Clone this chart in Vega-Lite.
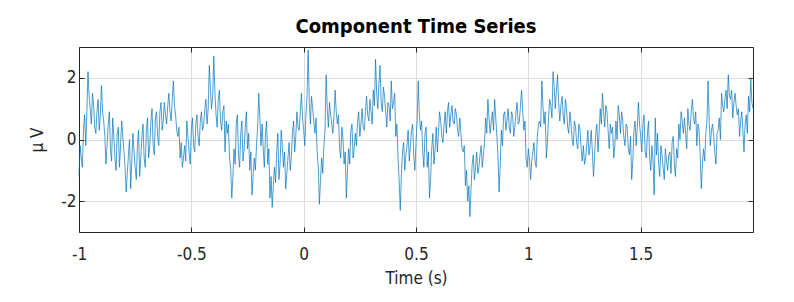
{
"$schema": "https://vega.github.io/schema/vega-lite/v6.json",
"width": 674, "height": 185,
"autosize": {"type": "none"},
"padding": {"left": 79, "top": 47, "right": 41, "bottom": 70},
"background": "white",
"title": {"text": "Component Time Series", "font": "DejaVu Sans Condensed", "fontSize": 20, "fontWeight": "bold", "color": "#000000", "offset": 10, "anchor": "middle"},
"config": {"view": {"stroke": null}, "axis": {"labelFont": "DejaVu Sans Condensed", "titleFont": "DejaVu Sans Condensed", "labelFontSize": 17, "titleFontSize": 17, "titleFontWeight": "normal", "labelColor": "#262626", "titleColor": "#262626", "domainColor": "#262626", "domainWidth": 1, "tickColor": "#262626", "tickWidth": 1, "gridColor": "#dcdcdc", "gridWidth": 1, "labelFlush": false}},
"data": {"values": [
{"t":-1.00,"v":-1.2},{"t":-0.99,"v":-0.6},{"t":-0.98,"v":0.3},{"t":-0.97,"v":-0.2},{"t":-0.96,"v":2.2},{"t":-0.95,"v":1.0},{"t":-0.94,"v":1.5},{"t":-0.93,"v":0.4},{"t":-0.92,"v":0.9},{"t":-0.91,"v":0.3},
{"t":-0.90,"v":1.75},{"t":-0.89,"v":0.6},{"t":-0.88,"v":-0.8},{"t":-0.87,"v":0.5},{"t":-0.86,"v":-0.3},{"t":-0.85,"v":0.7},{"t":-0.84,"v":-0.6},{"t":-0.83,"v":0.2},{"t":-0.82,"v":-0.9},{"t":-0.81,"v":0.6},
{"t":-0.80,"v":-0.4},{"t":-0.79,"v":-1.7},{"t":-0.78,"v":-0.5},{"t":-0.77,"v":-1.6},{"t":-0.76,"v":0.2},{"t":-0.75,"v":-0.9},{"t":-0.74,"v":-0.2},{"t":-0.73,"v":-1.2},{"t":-0.72,"v":0.1},{"t":-0.71,"v":-0.6},
{"t":-0.70,"v":0.3},{"t":-0.69,"v":-0.6},{"t":-0.68,"v":0.6},{"t":-0.67,"v":-0.2},{"t":-0.66,"v":0.7},{"t":-0.65,"v":0.1},{"t":-0.64,"v":0.9},{"t":-0.63,"v":0.3},{"t":-0.62,"v":1.2},{"t":-0.61,"v":0.5},
{"t":-0.60,"v":1.5},{"t":-0.59,"v":0.6},{"t":-0.58,"v":1.9},{"t":-0.57,"v":0.8},{"t":-0.56,"v":0.1},{"t":-0.55,"v":-0.6},{"t":-0.54,"v":-0.9},{"t":-0.53,"v":-0.2},{"t":-0.52,"v":0.6},{"t":-0.51,"v":-0.4},
{"t":-0.50,"v":0.3},{"t":-0.49,"v":-0.2},{"t":-0.48,"v":0.5},{"t":-0.47,"v":0.1},{"t":-0.46,"v":0.6},{"t":-0.45,"v":0.3},{"t":-0.44,"v":1.0},{"t":-0.43,"v":0.5},{"t":-0.42,"v":2.4},{"t":-0.41,"v":1.0},
{"t":-0.40,"v":2.7},{"t":-0.39,"v":0.8},{"t":-0.38,"v":1.3},{"t":-0.37,"v":0.6},{"t":-0.36,"v":0.9},{"t":-0.35,"v":-0.4},{"t":-0.34,"v":0.2},{"t":-0.33,"v":-0.6},{"t":-0.32,"v":-1.9},{"t":-0.31,"v":-0.3},
{"t":-0.30,"v":0.5},{"t":-0.29,"v":-0.5},{"t":-0.28,"v":0.2},{"t":-0.27,"v":-0.7},{"t":-0.26,"v":0.4},{"t":-0.25,"v":-0.3},{"t":-0.24,"v":-1.0},{"t":-0.23,"v":-1.8},{"t":-0.22,"v":-0.6},{"t":-0.21,"v":-0.2},
{"t":-0.20,"v":1.5},{"t":-0.19,"v":-0.2},{"t":-0.18,"v":-0.3},{"t":-0.17,"v":0.2},{"t":-0.16,"v":-0.8},{"t":-0.15,"v":-1.9},{"t":-0.14,"v":-2.2},{"t":-0.13,"v":-0.9},{"t":-0.12,"v":-0.4},{"t":-0.11,"v":-1.3},
{"t":-0.10,"v":0.3},{"t":-0.09,"v":-0.9},{"t":-0.08,"v":-1.6},{"t":-0.07,"v":-0.6},{"t":-0.06,"v":-1.0},{"t":-0.05,"v":0.2},{"t":-0.04,"v":-0.4},{"t":-0.03,"v":0.9},{"t":-0.02,"v":0.3},{"t":-0.01,"v":1.5},
{"t":0.00,"v":0.3},{"t":0.01,"v":0.8},{"t":0.02,"v":2.9},{"t":0.03,"v":0.5},{"t":0.04,"v":1.0},{"t":0.05,"v":0.2},{"t":0.06,"v":-0.4},{"t":0.07,"v":-2.1},{"t":0.08,"v":-0.6},{"t":0.09,"v":-0.2},
{"t":0.10,"v":2.1},{"t":0.11,"v":0.4},{"t":0.12,"v":0.8},{"t":0.13,"v":0.2},{"t":0.14,"v":1.6},{"t":0.15,"v":0.5},{"t":0.16,"v":-0.3},{"t":0.17,"v":0.4},{"t":0.18,"v":-0.8},{"t":0.19,"v":-1.9},
{"t":0.20,"v":-0.3},{"t":0.21,"v":0.3},{"t":0.22,"v":-0.6},{"t":0.23,"v":0.2},{"t":0.24,"v":0.6},{"t":0.25,"v":0.1},{"t":0.26,"v":1.0},{"t":0.27,"v":0.3},{"t":0.28,"v":1.4},{"t":0.29,"v":0.6},
{"t":0.30,"v":0.9},{"t":0.31,"v":1.6},{"t":0.32,"v":2.6},{"t":0.33,"v":1.0},{"t":0.34,"v":2.4},{"t":0.35,"v":0.9},{"t":0.36,"v":1.4},{"t":0.37,"v":0.4},{"t":0.38,"v":1.1},{"t":0.39,"v":1.9},
{"t":0.40,"v":1.2},{"t":0.41,"v":0.1},{"t":0.42,"v":-0.6},{"t":0.43,"v":-2.3},{"t":0.44,"v":-0.4},{"t":0.45,"v":-1.0},{"t":0.46,"v":-0.2},{"t":0.47,"v":-0.7},{"t":0.48,"v":0.3},{"t":0.49,"v":-0.5},
{"t":0.50,"v":-0.1},{"t":0.51,"v":1.9},{"t":0.52,"v":0.3},{"t":0.53,"v":-0.4},{"t":0.54,"v":0.2},{"t":0.55,"v":-0.9},{"t":0.56,"v":-1.9},{"t":0.57,"v":-0.3},{"t":0.58,"v":-0.8},{"t":0.59,"v":0.4},
{"t":0.60,"v":0.2},{"t":0.61,"v":0.6},{"t":0.62,"v":-0.1},{"t":0.63,"v":0.9},{"t":0.64,"v":0.9},{"t":0.65,"v":0.4},{"t":0.66,"v":1.1},{"t":0.67,"v":0.5},{"t":0.68,"v":0.8},{"t":0.69,"v":0.1},
{"t":0.70,"v":0.2},{"t":0.71,"v":-0.4},{"t":0.72,"v":-1.5},{"t":0.73,"v":-2.0},{"t":0.74,"v":-2.5},{"t":0.75,"v":-0.8},{"t":0.76,"v":-1.3},{"t":0.77,"v":-0.4},{"t":0.78,"v":-0.9},{"t":0.79,"v":-0.2},
{"t":0.80,"v":-0.5},{"t":0.81,"v":0.7},{"t":0.82,"v":1.3},{"t":0.83,"v":0.2},{"t":0.84,"v":0.9},{"t":0.85,"v":1.3},{"t":0.86,"v":0.1},{"t":0.87,"v":-1.7},{"t":0.88,"v":0.3},{"t":0.89,"v":0.8},
{"t":0.90,"v":0.3},{"t":0.91,"v":1.0},{"t":0.92,"v":0.2},{"t":0.93,"v":0.8},{"t":0.94,"v":0.4},{"t":0.95,"v":1.2},{"t":0.96,"v":0.6},{"t":0.97,"v":1.6},{"t":0.98,"v":0.3},{"t":0.99,"v":-0.6},
{"t":1.00,"v":-0.3},{"t":1.01,"v":-1.3},{"t":1.02,"v":-0.4},{"t":1.03,"v":-0.7},{"t":1.04,"v":0.1},{"t":1.05,"v":0.6},{"t":1.06,"v":1.9},{"t":1.07,"v":0.5},{"t":1.08,"v":-0.6},{"t":1.09,"v":0.7},
{"t":1.10,"v":1.1},{"t":1.11,"v":2.2},{"t":1.12,"v":1.0},{"t":1.13,"v":2.1},{"t":1.14,"v":0.6},{"t":1.15,"v":1.4},{"t":1.16,"v":0.5},{"t":1.17,"v":1.0},{"t":1.18,"v":0.2},{"t":1.19,"v":0.5},
{"t":1.20,"v":-0.2},{"t":1.21,"v":0.4},{"t":1.22,"v":-0.3},{"t":1.23,"v":0.3},{"t":1.24,"v":-0.7},{"t":1.25,"v":-0.8},{"t":1.26,"v":-0.2},{"t":1.27,"v":-0.5},{"t":1.28,"v":0.3},{"t":1.29,"v":-1.2},
{"t":1.30,"v":0.2},{"t":1.31,"v":-0.4},{"t":1.32,"v":1.0},{"t":1.33,"v":1.5},{"t":1.34,"v":0.4},{"t":1.35,"v":0.9},{"t":1.36,"v":-0.3},{"t":1.37,"v":0.2},{"t":1.38,"v":-0.6},{"t":1.39,"v":0.6},
{"t":1.40,"v":1.1},{"t":1.41,"v":0.2},{"t":1.42,"v":0.6},{"t":1.43,"v":-0.2},{"t":1.44,"v":0.4},{"t":1.45,"v":-0.5},{"t":1.46,"v":-1.3},{"t":1.47,"v":0.3},{"t":1.48,"v":-0.2},{"t":1.49,"v":1.2},
{"t":1.50,"v":0.1},{"t":1.51,"v":0.5},{"t":1.52,"v":-0.4},{"t":1.53,"v":0.2},{"t":1.54,"v":-0.6},{"t":1.55,"v":-0.2},{"t":1.56,"v":-1.8},{"t":1.57,"v":-0.5},{"t":1.58,"v":-0.8},{"t":1.59,"v":-0.2},
{"t":1.60,"v":-0.9},{"t":1.61,"v":-0.3},{"t":1.62,"v":-1.0},{"t":1.63,"v":-0.4},{"t":1.64,"v":-0.1},{"t":1.65,"v":-0.8},{"t":1.66,"v":-0.3},{"t":1.67,"v":0.5},{"t":1.68,"v":0.9},{"t":1.69,"v":0.2},
{"t":1.70,"v":0.2},{"t":1.71,"v":1.0},{"t":1.72,"v":0.3},{"t":1.73,"v":1.3},{"t":1.74,"v":0.5},{"t":1.75,"v":-0.2},{"t":1.76,"v":0.3},{"t":1.77,"v":-1.6},{"t":1.78,"v":-0.3},{"t":1.79,"v":0.2},
{"t":1.80,"v":1.9},{"t":1.81,"v":-0.2},{"t":1.82,"v":0.5},{"t":1.83,"v":-0.4},{"t":1.84,"v":0.2},{"t":1.85,"v":0.7},{"t":1.86,"v":1.5},{"t":1.87,"v":0.9},{"t":1.88,"v":1.6},{"t":1.89,"v":2.1},
{"t":1.90,"v":1.3},{"t":1.91,"v":0.7},{"t":1.92,"v":1.5},{"t":1.93,"v":0.8},{"t":1.94,"v":0.1},{"t":1.95,"v":0.9},{"t":1.96,"v":-0.4},{"t":1.97,"v":0.8},{"t":1.98,"v":1.4},{"t":1.99,"v":2.0},{"t":2.00,"v":1.0},
{"t":-0.995,"v":-0.2},{"t":-0.985,"v":-0.9},{"t":-0.975,"v":0.8},{"t":-0.965,"v":0.9},{"t":-0.955,"v":1.4},{"t":-0.945,"v":0.5},{"t":-0.935,"v":1.1},{"t":-0.925,"v":0.2},{"t":-0.915,"v":1.3},{"t":-0.905,"v":0.8},
{"t":-0.895,"v":0.9},{"t":-0.885,"v":0.1},{"t":-0.875,"v":-0.2},{"t":-0.865,"v":0.9},{"t":-0.855,"v":-0.7},{"t":-0.845,"v":0.1},{"t":-0.835,"v":-1.0},{"t":-0.825,"v":0.4},{"t":-0.815,"v":-0.2},{"t":-0.805,"v":0.1},
{"t":-0.795,"v":-0.9},{"t":-0.785,"v":-1.1},{"t":-0.775,"v":0.0},{"t":-0.765,"v":-0.7},{"t":-0.755,"v":-0.4},{"t":-0.745,"v":-1.3},{"t":-0.735,"v":0.3},{"t":-0.725,"v":-0.6},{"t":-0.715,"v":0.5},{"t":-0.705,"v":-0.9},
{"t":-0.695,"v":0.7},{"t":-0.685,"v":-0.2},{"t":-0.675,"v":1.0},{"t":-0.665,"v":-0.5},{"t":-0.655,"v":0.9},{"t":-0.645,"v":-0.2},{"t":-0.635,"v":1.2},{"t":-0.625,"v":0.6},{"t":-0.615,"v":0.8},{"t":-0.605,"v":1.1},
{"t":-0.595,"v":0.9},{"t":-0.585,"v":1.3},{"t":-0.575,"v":1.1},{"t":-0.565,"v":0.3},{"t":-0.555,"v":0.4},{"t":-0.545,"v":-0.1},{"t":-0.535,"v":-0.6},{"t":-0.525,"v":-0.7},{"t":-0.515,"v":0.1},{"t":-0.505,"v":-0.8},
{"t":-0.495,"v":0.7},{"t":-0.485,"v":-0.4},{"t":-0.475,"v":0.8},{"t":-0.465,"v":-0.2},{"t":-0.455,"v":0.9},{"t":-0.445,"v":0.5},{"t":-0.435,"v":1.3},{"t":-0.425,"v":1.0},{"t":-0.415,"v":1.6},{"t":-0.405,"v":1.4},
{"t":-0.395,"v":1.5},{"t":-0.385,"v":0.4},{"t":-0.375,"v":1.6},{"t":-0.365,"v":0.3},{"t":-0.355,"v":1.1},{"t":-0.345,"v":0.6},{"t":-0.335,"v":0.5},{"t":-0.325,"v":-0.9},{"t":-0.315,"v":-1.2},{"t":-0.305,"v":-0.8},
{"t":-0.295,"v":0.8},{"t":-0.285,"v":-0.9},{"t":-0.275,"v":0.6},{"t":-0.265,"v":-0.3},{"t":-0.255,"v":0.9},{"t":-0.245,"v":0.2},{"t":-0.235,"v":-0.4},{"t":-0.225,"v":-1.2},{"t":-0.215,"v":-1.0},{"t":-0.205,"v":0.4},
{"t":-0.195,"v":0.7},{"t":-0.185,"v":0.5},{"t":-0.175,"v":-0.9},{"t":-0.165,"v":0.6},{"t":-0.155,"v":-0.3},{"t":-0.145,"v":-1.2},{"t":-0.135,"v":-1.5},{"t":-0.125,"v":-1.4},{"t":-0.115,"v":0.2},{"t":-0.105,"v":-0.8},
{"t":-0.095,"v":-0.2},{"t":-0.085,"v":-0.4},{"t":-0.075,"v":-1.1},{"t":-0.065,"v":-0.1},{"t":-0.055,"v":-0.6},{"t":-0.045,"v":0.6},{"t":-0.035,"v":0.1},{"t":-0.025,"v":0.4},{"t":-0.015,"v":0.9},{"t":-0.005,"v":0.7},
{"t":0.005,"v":-0.2},{"t":0.015,"v":1.4},{"t":0.025,"v":1.2},{"t":0.035,"v":1.4},{"t":0.045,"v":0.6},{"t":0.055,"v":0.7},{"t":0.065,"v":-0.9},{"t":0.075,"v":-1.3},{"t":0.085,"v":-1.1},{"t":0.095,"v":0.3},
{"t":0.105,"v":1.0},{"t":0.115,"v":1.2},{"t":0.125,"v":0.5},{"t":0.135,"v":0.8},{"t":0.145,"v":0.9},{"t":0.155,"v":0.8},{"t":0.165,"v":-0.6},{"t":0.175,"v":0.0},{"t":0.185,"v":-0.4},{"t":0.195,"v":-1.0},
{"t":0.205,"v":-0.8},{"t":0.215,"v":0.5},{"t":0.225,"v":-0.3},{"t":0.235,"v":-0.2},{"t":0.245,"v":0.9},{"t":0.255,"v":0.5},{"t":0.265,"v":0.4},{"t":0.275,"v":0.9},{"t":0.285,"v":0.8},{"t":0.295,"v":1.3},
{"t":0.305,"v":0.5},{"t":0.315,"v":1.1},{"t":0.325,"v":1.5},{"t":0.335,"v":1.8},{"t":0.345,"v":1.2},{"t":0.355,"v":1.7},{"t":0.365,"v":0.9},{"t":0.375,"v":1.2},{"t":0.385,"v":0.6},{"t":0.395,"v":1.0},
{"t":0.405,"v":1.5},{"t":0.415,"v":0.5},{"t":0.425,"v":-1.3},{"t":0.435,"v":-1.1},{"t":0.445,"v":-0.1},{"t":0.455,"v":-0.5},{"t":0.465,"v":0.3},{"t":0.475,"v":-0.2},{"t":0.485,"v":0.5},{"t":0.495,"v":-1.0},
{"t":0.505,"v":0.6},{"t":0.515,"v":0.8},{"t":0.525,"v":0.6},{"t":0.535,"v":-0.9},{"t":0.545,"v":0.4},{"t":0.555,"v":-0.4},{"t":0.565,"v":-1.3},{"t":0.575,"v":0.2},{"t":0.585,"v":-0.3},{"t":0.595,"v":-0.4},
{"t":0.605,"v":0.9},{"t":0.615,"v":0.1},{"t":0.625,"v":0.5},{"t":0.635,"v":0.2},{"t":0.645,"v":1.2},{"t":0.655,"v":0.8},{"t":0.665,"v":0.6},{"t":0.675,"v":1.0},{"t":0.685,"v":0.3},{"t":0.695,"v":0.7},
{"t":0.705,"v":-0.3},{"t":0.715,"v":-0.2},{"t":0.725,"v":-1.0},{"t":0.735,"v":-1.5},{"t":0.745,"v":-1.6},{"t":0.755,"v":-0.5},{"t":0.765,"v":-0.9},{"t":0.775,"v":-1.1},{"t":0.785,"v":-0.5},{"t":0.795,"v":-0.9},
{"t":0.805,"v":-0.1},{"t":0.815,"v":0.2},{"t":0.825,"v":0.7},{"t":0.835,"v":0.6},{"t":0.845,"v":0.3},{"t":0.855,"v":0.7},{"t":0.865,"v":-0.6},{"t":0.875,"v":-0.8},{"t":0.885,"v":-0.2},{"t":0.895,"v":0.9},
{"t":0.905,"v":0.6},{"t":0.915,"v":0.4},{"t":0.925,"v":0.9},{"t":0.935,"v":0.1},{"t":0.945,"v":0.9},{"t":0.955,"v":0.5},{"t":0.965,"v":1.1},{"t":0.975,"v":0.9},{"t":0.985,"v":0.6},{"t":0.995,"v":-0.9},
{"t":1.005,"v":-0.6},{"t":1.015,"v":-0.7},{"t":1.025,"v":-0.1},{"t":1.035,"v":-0.9},{"t":1.045,"v":0.5},{"t":1.055,"v":0.4},{"t":1.065,"v":1.1},{"t":1.075,"v":0.9},{"t":1.085,"v":-0.1},{"t":1.095,"v":1.3},
{"t":1.105,"v":0.7},{"t":1.115,"v":1.7},{"t":1.125,"v":1.6},{"t":1.135,"v":1.2},{"t":1.145,"v":1.1},{"t":1.155,"v":0.8},{"t":1.165,"v":1.3},{"t":1.175,"v":0.4},{"t":1.185,"v":0.9},{"t":1.195,"v":0.0},
{"t":1.205,"v":0.6},{"t":1.215,"v":-0.1},{"t":1.225,"v":0.5},{"t":1.235,"v":-0.3},{"t":1.245,"v":-0.2},{"t":1.255,"v":-0.6},{"t":1.265,"v":0.3},{"t":1.275,"v":-0.2},{"t":1.285,"v":-0.4},{"t":1.295,"v":-0.5},
{"t":1.305,"v":0.5},{"t":1.315,"v":0.2},{"t":1.325,"v":0.5},{"t":1.335,"v":0.9},{"t":1.345,"v":1.1},{"t":1.355,"v":0.3},{"t":1.365,"v":0.5},{"t":1.375,"v":0.4},{"t":1.385,"v":-0.2},{"t":1.395,"v":0.0},
{"t":1.405,"v":0.8},{"t":1.415,"v":0.9},{"t":1.425,"v":0.1},{"t":1.435,"v":0.5},{"t":1.445,"v":-0.3},{"t":1.455,"v":0.1},{"t":1.465,"v":-0.7},{"t":1.475,"v":0.6},{"t":1.485,"v":0.4},{"t":1.495,"v":0.5},
{"t":1.505,"v":-0.4},{"t":1.515,"v":0.8},{"t":1.525,"v":-0.6},{"t":1.535,"v":0.6},{"t":1.545,"v":-1.0},{"t":1.555,"v":-0.7},{"t":1.565,"v":0.7},{"t":1.575,"v":0.2},{"t":1.585,"v":-1.2},{"t":1.595,"v":-0.5},
{"t":1.605,"v":-1.3},{"t":1.615,"v":-0.7},{"t":1.625,"v":-0.5},{"t":1.635,"v":-1.1},{"t":1.645,"v":0.1},{"t":1.655,"v":-1.2},{"t":1.665,"v":-0.6},{"t":1.675,"v":0.0},{"t":1.685,"v":0.6},{"t":1.695,"v":0.7},
{"t":1.705,"v":-0.3},{"t":1.715,"v":0.5},{"t":1.725,"v":0.9},{"t":1.735,"v":0.7},{"t":1.745,"v":0.9},{"t":1.755,"v":0.5},{"t":1.765,"v":-0.5},{"t":1.775,"v":-0.8},{"t":1.785,"v":-0.7},{"t":1.795,"v":0.6},
{"t":1.805,"v":0.6},{"t":1.815,"v":0.3},{"t":1.825,"v":0.1},{"t":1.835,"v":-0.8},{"t":1.845,"v":0.3},{"t":1.855,"v":0.0},{"t":1.865,"v":1.1},{"t":1.875,"v":1.3},{"t":1.885,"v":1.0},{"t":1.895,"v":1.4},
{"t":1.905,"v":1.6},{"t":1.915,"v":1.2},{"t":1.925,"v":1.1},{"t":1.935,"v":1.0},{"t":1.945,"v":0.6},{"t":1.955,"v":0.3},{"t":1.965,"v":0.5},{"t":1.975,"v":0.2},{"t":1.985,"v":0.9},{"t":1.995,"v":1.2}
]},
"layer": [
{"mark": {"type": "line", "opacity": 0},
 "encoding": {
  "x": {"field": "t", "type": "quantitative", "scale": {"domain": [-1, 2], "nice": false, "zero": false},
        "axis": {"orient": "top", "values": [-1, -0.5, 0, 0.5, 1, 1.5], "labels": false, "grid": false, "tickSize": -5, "title": null}},
  "y": {"field": "v", "type": "quantitative", "scale": {"domain": [-3, 3], "nice": false, "zero": false},
        "axis": {"orient": "right", "values": [-2, 0, 2], "labels": false, "grid": false, "tickSize": -5, "title": null}}
 }},
{"mark": {"type": "line", "color": "#0072BD", "strokeWidth": 0.7},
 "encoding": {
  "x": {"field": "t", "type": "quantitative",
        "axis": {"orient": "bottom", "values": [-1, -0.5, 0, 0.5, 1, 1.5], "grid": true, "tickSize": -5, "labelPadding": 19, "labelFlush": false, "labelExpr": "datum.value < 0 ? '-' + format(-datum.value, '~g') : format(datum.value, '~g')", "title": "Time (s)", "titlePadding": 8}},
  "y": {"field": "v", "type": "quantitative",
        "axis": {"orient": "left", "values": [-2, 0, 2], "grid": true, "tickSize": -5, "labelPadding": 8, "labelFlush": false, "labelExpr": "datum.value < 0 ? '-' + format(-datum.value, '~g') : format(datum.value, '~g')", "title": "\u03bc V", "titlePadding": 14}}
 }}
],
"resolve": {"axis": {"x": "independent", "y": "independent"}}
}
